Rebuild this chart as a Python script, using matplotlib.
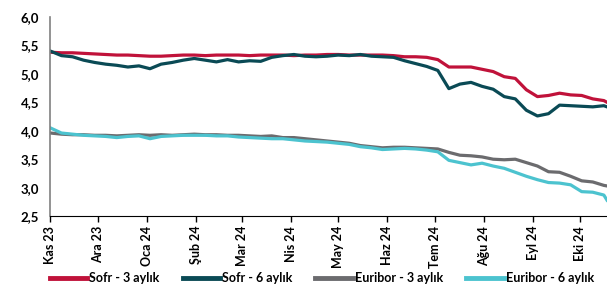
import numpy as np
import pandas as pd
import matplotlib
matplotlib.use("Agg")
import matplotlib.pyplot as plt
import matplotlib.ticker as mticker

plt.rcParams['font.family'] = ['Lato', 'DejaVu Sans']

# weekly readings, Nov 2023 - Oct 2024
dates = list(pd.date_range('2023-11-01', '2024-10-16', freq='7D')) + [pd.Timestamp('2024-10-18')]

sofr_3m = [5.38, 5.37, 5.37, 5.36, 5.35, 5.34, 5.33, 5.33, 5.32, 5.31,
           5.31, 5.32, 5.33, 5.33, 5.32, 5.33, 5.33, 5.33, 5.32, 5.33,
           5.33, 5.33, 5.32, 5.33, 5.33, 5.34, 5.34, 5.33, 5.33, 5.33,
           5.33, 5.32, 5.30, 5.30, 5.29, 5.25, 5.12, 5.12, 5.12, 5.08,
           5.04, 4.95, 4.92, 4.72, 4.60, 4.62, 4.66, 4.63, 4.62, 4.56,
           4.53, 4.50]
sofr_6m = [5.40, 5.32, 5.30, 5.24, 5.20, 5.17, 5.15, 5.12, 5.14, 5.09,
           5.17, 5.20, 5.24, 5.27, 5.24, 5.21, 5.25, 5.21, 5.23, 5.22,
           5.29, 5.32, 5.34, 5.31, 5.30, 5.31, 5.33, 5.32, 5.34, 5.31,
           5.30, 5.29, 5.23, 5.18, 5.13, 5.06, 4.74, 4.82, 4.85, 4.78,
           4.73, 4.60, 4.56, 4.36, 4.26, 4.30, 4.45, 4.44, 4.43, 4.42,
           4.44, 4.42]
euribor_3m = [3.96, 3.94, 3.93, 3.93, 3.92, 3.92, 3.91, 3.92, 3.93, 3.92,
              3.93, 3.92, 3.93, 3.94, 3.93, 3.93, 3.92, 3.92, 3.91, 3.90,
              3.91, 3.88, 3.88, 3.86, 3.84, 3.82, 3.80, 3.78, 3.74, 3.72,
              3.70, 3.71, 3.71, 3.70, 3.69, 3.68, 3.62, 3.57, 3.56, 3.54,
              3.50, 3.49, 3.50, 3.44, 3.38, 3.28, 3.27, 3.20, 3.12, 3.10,
              3.04, 3.03]
euribor_6m = [4.05, 3.96, 3.94, 3.92, 3.91, 3.90, 3.88, 3.90, 3.91, 3.86,
              3.90, 3.91, 3.92, 3.92, 3.92, 3.91, 3.91, 3.89, 3.88, 3.87,
              3.86, 3.86, 3.84, 3.82, 3.81, 3.80, 3.78, 3.76, 3.72, 3.70,
              3.67, 3.68, 3.69, 3.68, 3.66, 3.63, 3.48, 3.44, 3.40, 3.43,
              3.38, 3.34, 3.27, 3.20, 3.14, 3.09, 3.08, 3.05, 2.93, 2.92,
              2.87, 2.78]

labels = ['Sofr - 3 aylık', 'Sofr - 6 aylık', 'Euribor - 3 aylık', 'Euribor - 6 aylık']
colors = ['#C0123A', '#0A4A55', '#6B6B6E', '#4CC3CF']
month_labels = ['Kas 23', 'Ara 23', 'Oca 24', 'Şub 24', 'Mar 24', 'Nis 24',
                'May 24', 'Haz 24', 'Tem 24', 'Ağu 24', 'Eyl 24', 'Eki 24']

fig = plt.figure(figsize=(6.07, 2.87), dpi=100)
ax = fig.add_axes([0.083, 0.247, 0.917, 0.694])

for vals, lab, c in zip([sofr_3m, sofr_6m, euribor_3m, euribor_6m], labels, colors):
    ax.plot(dates, vals, color=c, lw=2.3, label=lab)

ax.set_ylim(2.5, 6.0)
ax.set_yticks(np.arange(2.5, 6.01, 0.5))
ax.yaxis.set_major_formatter(mticker.FuncFormatter(lambda v, p: f'{v:.1f}'.replace('.', ',')))
ax.set_xlim(dates[0], dates[-1])

ticks = pd.date_range('2023-11-01', '2024-10-01', freq='MS')
ax.set_xticks(ticks)
ax.set_xticklabels(month_labels, rotation=90, fontsize=9, fontweight='bold')
for t in ax.get_yticklabels():
    t.set_fontsize(9.5)
    t.set_fontweight('bold')

ax.tick_params(axis='y', length=0, pad=8)
ax.tick_params(axis='x', direction='out', length=4, width=1, pad=3)
for s in ['top', 'right']:
    ax.spines[s].set_visible(False)
ax.spines['left'].set_color('#808080')
ax.spines['left'].set_linewidth(1.2)
ax.spines['bottom'].set_color('black')

leg = fig.legend(loc='center', bbox_to_anchor=(0.53, 0.03), ncol=4, frameon=False,
                 prop={'size': 9, 'weight': 'bold'}, handlelength=3.0,
                 columnspacing=1.85, handletextpad=0.15)
for h in leg.get_lines():
    h.set_linewidth(3.5)

fig.savefig('out.png', dpi=100)
